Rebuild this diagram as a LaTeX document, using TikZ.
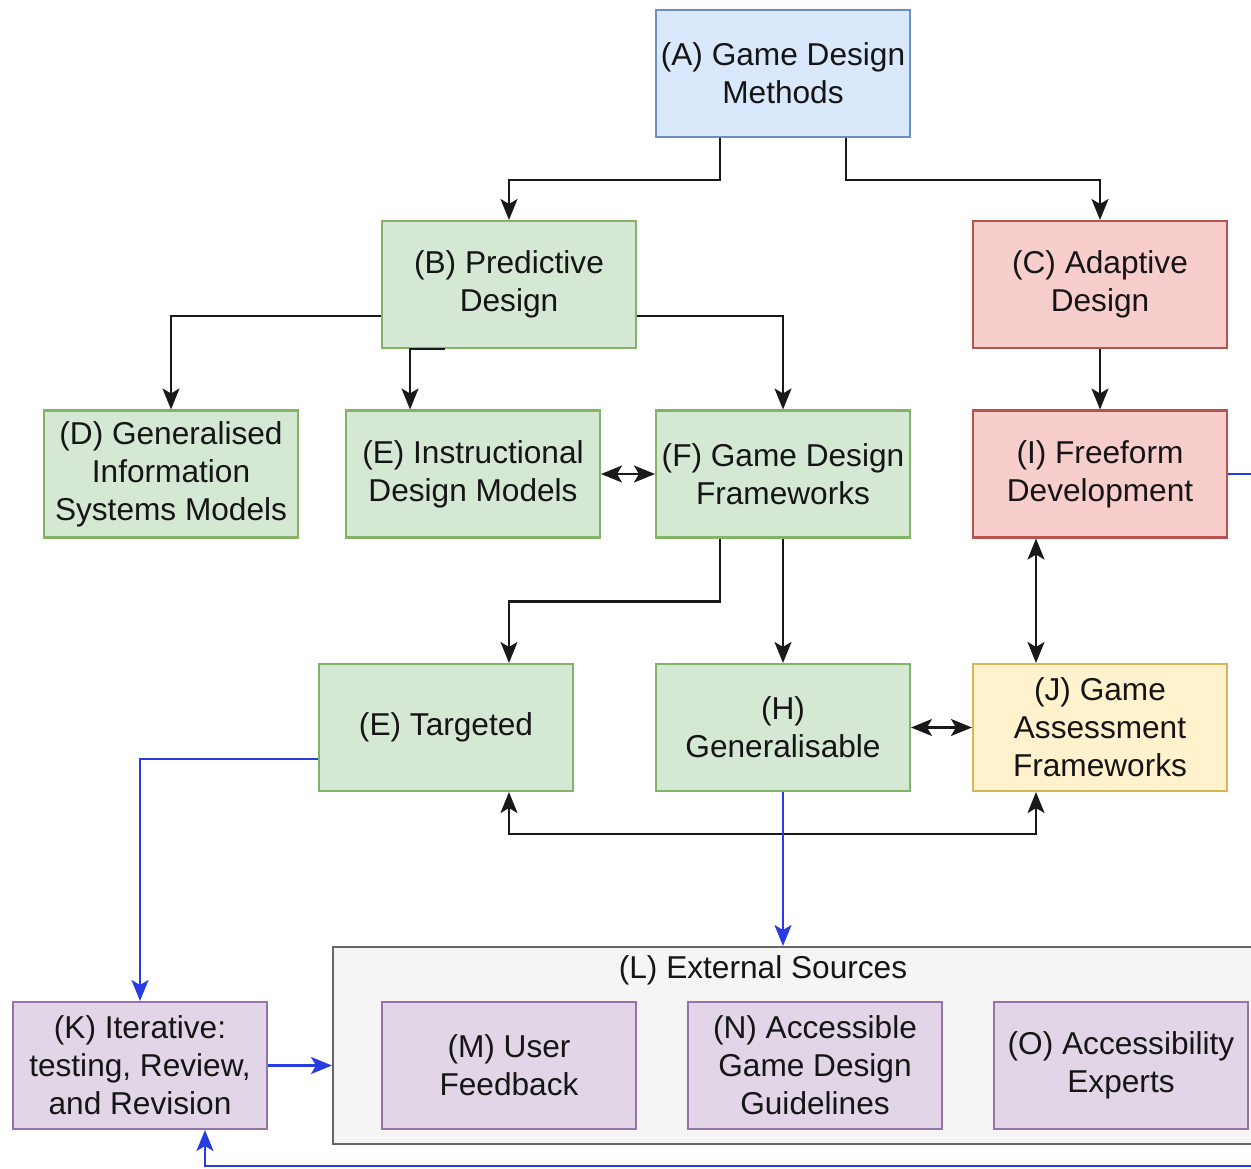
\documentclass[tikz,border=0pt]{standalone}
\usepackage{fontspec}
\setmainfont{Liberation Sans}
\usetikzlibrary{arrows.meta,calc}
\definecolor{blueF}{HTML}{DAE8FC}\definecolor{blueD}{HTML}{6C8EBF}
\definecolor{greenF}{HTML}{D5E8D4}\definecolor{greenD}{HTML}{82B366}
\definecolor{redF}{HTML}{F8CECC}\definecolor{redD}{HTML}{B85450}
\definecolor{yelF}{HTML}{FFF2CC}\definecolor{yelD}{HTML}{D6B656}
\definecolor{purF}{HTML}{E1D5E7}\definecolor{purD}{HTML}{9673A6}
\definecolor{grayF}{HTML}{F5F5F5}\definecolor{grayD}{HTML}{666666}
\definecolor{lineblue}{RGB}{40,60,225}
\definecolor{txt}{HTML}{151515}
\begin{document}
\begin{tikzpicture}[x=0.02cm,y=-0.02cm,
  box/.style={rectangle,draw,line width=1.2pt,minimum width=5.08cm,minimum height=2.54cm,
    align=center,inner sep=2pt,text=txt,font=\fontsize{18}{21.6}\selectfont},
  bluebox/.style={box,fill=blueF,draw=blueD},
  greenbox/.style={box,fill=greenF,draw=greenD},
  redbox/.style={box,fill=redF,draw=redD},
  yelbox/.style={box,fill=yelF,draw=yelD},
  purbox/.style={box,fill=purF,draw=purD},
  tip/.tip={Stealth[length=0.42cm,width=0.34cm,inset=0.1cm]},
  arr/.style={line width=1.3pt,draw=black!90,-tip},
  darr/.style={line width=1.3pt,draw=black!90,tip-tip},
  barr/.style={line width=1.3pt,draw=lineblue,-tip},
]
\useasboundingbox (0,0) rectangle (1251,1169);
\fill[white] (0,0) rectangle (1251,1169);

% external sources container
\node[rectangle,draw=grayD,fill=grayF,line width=1.2pt,minimum width=19.36cm,minimum height=3.94cm,anchor=north west] (L) at (332,946) {};
\node[text=txt,font=\fontsize{18}{21.6}\selectfont] (Llab) at (763,970) {(L) External Sources};

\node[bluebox] (A) at (783,73.5) {(A) Game Design\\Methods};
\node[greenbox] (B) at (509,284.5) {(B) Predictive\\Design};
\node[redbox] (C) at (1100,284.5) {(C) Adaptive\\Design};
\node[greenbox] (D) at (171,474) {(D) Generalised\\Information\\Systems Models};
\node[greenbox] (E) at (473,474) {(E) Instructional\\Design Models};
\node[greenbox] (F) at (783,474) {(F) Game Design\\Frameworks};
\node[redbox] (I) at (1100,474) {(I) Freeform\\Development};
\node[greenbox] (T) at (446,727.5) {(E) Targeted};
\node[greenbox] (H) at (783,727.5) {(H)\\Generalisable};
\node[yelbox] (J) at (1100,727.5) {(J) Game\\Assessment\\Frameworks};
\node[purbox] (K) at (140,1065.5) {(K) Iterative:\\testing, Review,\\and Revision};
\node[purbox] (M) at (509,1065.5) {(M) User\\Feedback};
\node[purbox] (N) at (815,1065.5) {(N) Accessible\\Game Design\\Guidelines};
\node[purbox] (O) at (1121,1065.5) {(O) Accessibility\\Experts};

% black connectors
\draw[arr] ([xshift=-1.26cm]A.south) -- ++(0,42) -| (B.north);
\draw[arr] ([xshift=1.26cm]A.south) -- ++(0,42) -| (C.north);
\draw[arr] ([yshift=-0.63cm]B.west) -| (D.north);
\draw[arr] ([xshift=-1.28cm]B.south) -| ([xshift=-1.26cm]E.north);
\draw[arr] ([yshift=-0.63cm]B.east) -| (F.north);
\draw[darr] (E.east) -- (F.west);
\draw[arr] (C.south) -- (I.north);
\draw[arr] ([xshift=-1.26cm]F.south) -- ++(0,63) -| ([xshift=1.26cm]T.north);
\draw[arr] (F.south) -- (H.north);
\draw[darr] ([xshift=-1.28cm]I.south) -- ([xshift=-1.28cm]J.north);
\draw[darr] (H.east) -- (J.west);
\draw[darr] ([xshift=1.26cm]T.south) -- ++(0,42) -| ([xshift=-1.28cm]J.south);

% blue connectors
\draw[barr] (H.south) -- (H.south |- L.north);
\draw[barr] ([yshift=-0.63cm]T.west) -| (K.north);
\draw[barr] (K.east) -- (K.east -| L.west);
\coordinate (loopR) at (1290,1166);
\draw[barr] (I.east) -| (loopR) -| ([xshift=1.3cm]K.south);
\end{tikzpicture}
\end{document}
